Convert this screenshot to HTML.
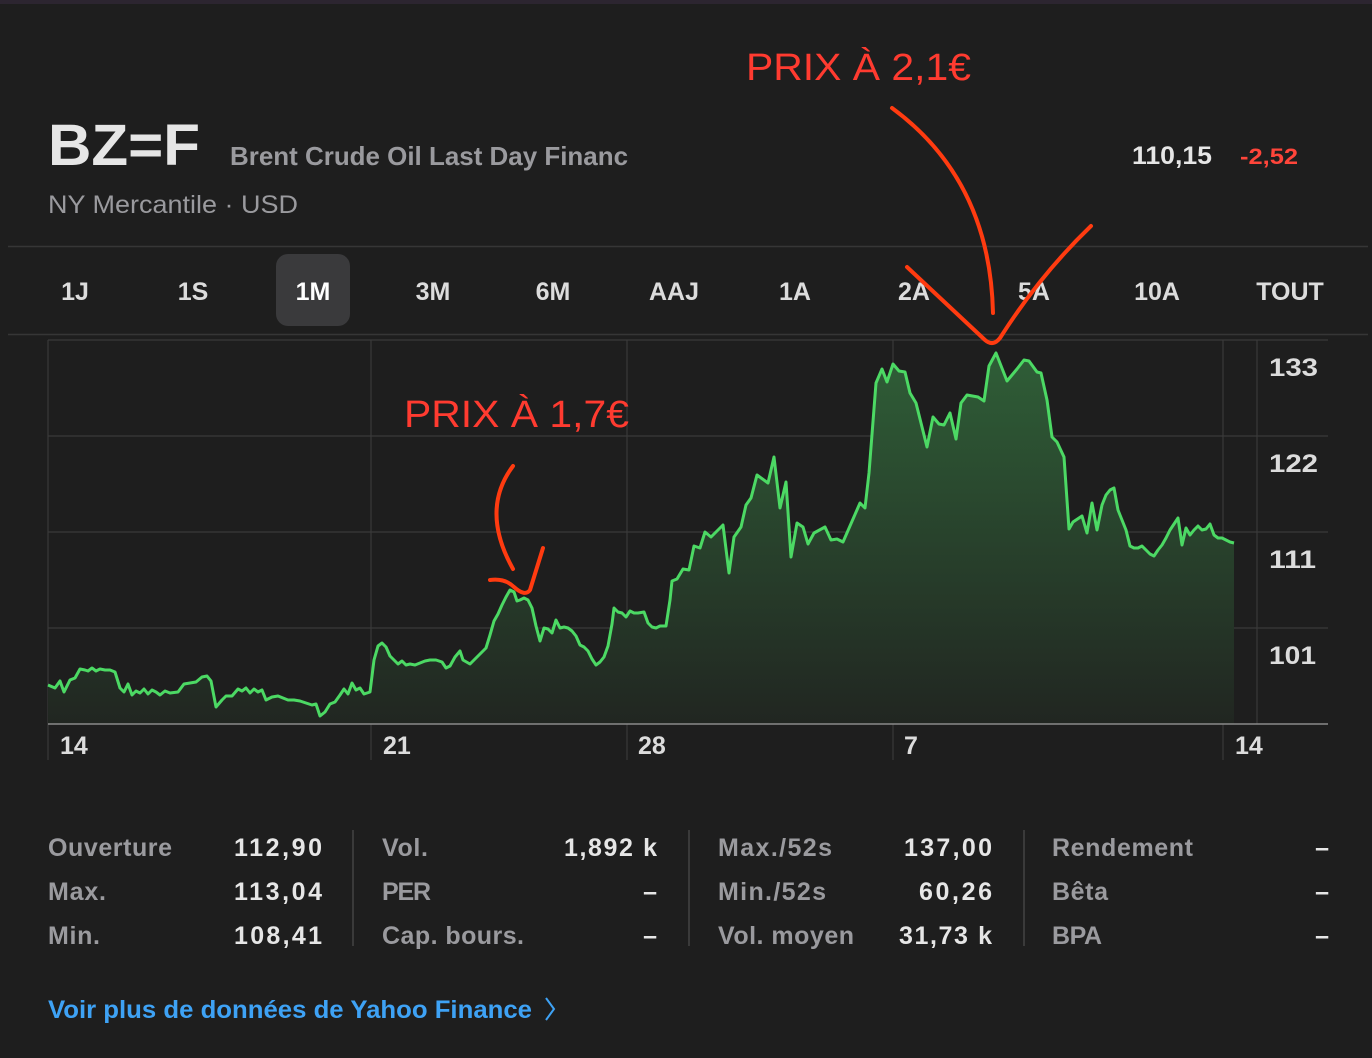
<!DOCTYPE html>
<html><head><meta charset="utf-8"><style>
html,body{margin:0;padding:0;background:#1e1e1e;}
svg{display:block;font-family:"Liberation Sans",sans-serif;}
</style></head><body>
<svg width="1372" height="1058" viewBox="0 0 1372 1058" xmlns="http://www.w3.org/2000/svg">
<defs>
<linearGradient id="fillg" x1="0" y1="352" x2="0" y2="724" gradientUnits="userSpaceOnUse">
<stop offset="0" stop-color="#2f5e37"/><stop offset="1" stop-color="#212621"/>
</linearGradient>
</defs>
<rect width="1372" height="1058" fill="#1e1e1e"/>
<rect width="1372" height="4" fill="#2c2530"/>
<text x="48" y="165" font-size="58" font-weight="bold" fill="#e6e6e6" textLength="152" lengthAdjust="spacingAndGlyphs">BZ=F</text>
<text x="230" y="165" font-size="26" font-weight="bold" fill="#9a9a9e" textLength="398" lengthAdjust="spacingAndGlyphs">Brent Crude Oil Last Day Financ</text>
<text x="48" y="213" font-size="25" fill="#9a9a9e" textLength="250" lengthAdjust="spacingAndGlyphs">NY Mercantile · USD</text>
<text x="1132" y="164" font-size="25" font-weight="bold" fill="#e6e6e6" textLength="80" lengthAdjust="spacingAndGlyphs">110,15</text>
<text x="1240" y="164" font-size="22" font-weight="bold" fill="#ff453a" textLength="58" lengthAdjust="spacingAndGlyphs">-2,52</text>
<line x1="8" y1="246.5" x2="1368" y2="246.5" stroke="#363636" stroke-width="1.5"/>
<line x1="8" y1="334.5" x2="1368" y2="334.5" stroke="#363636" stroke-width="1.5"/>
<rect x="276" y="254" width="74" height="72" rx="12" fill="#3a3a3c"/>
<g font-size="25" font-weight="bold" fill="#dcdcdc" text-anchor="middle">
<text x="75" y="300">1J</text><text x="193" y="300">1S</text><text x="313" y="300" fill="#fff">1M</text>
<text x="433" y="300">3M</text><text x="553" y="300">6M</text><text x="674" y="300">AAJ</text>
<text x="795" y="300">1A</text><text x="914" y="300">2A</text><text x="1034" y="300">5A</text>
<text x="1157" y="300">10A</text><text x="1290" y="300">TOUT</text>
</g>
<g stroke="#3a3a3a" stroke-width="1.2">
<line x1="48" y1="340" x2="1328" y2="340"/>
<line x1="48" y1="436" x2="1328" y2="436"/>
<line x1="48" y1="532" x2="1328" y2="532"/>
<line x1="48" y1="628" x2="1328" y2="628"/>
<line x1="48" y1="340" x2="48" y2="760"/>
<line x1="371" y1="340" x2="371" y2="760"/>
<line x1="627" y1="340" x2="627" y2="760"/>
<line x1="893" y1="340" x2="893" y2="760"/>
<line x1="1223" y1="340" x2="1223" y2="760"/>
<line x1="1257" y1="340" x2="1257" y2="724"/>
</g>
<polygon fill="url(#fillg)" points="48,724 48,685 55,688 60,681 64,692 70,680 75,678 80,669 85,670 88,671 92,668 96,671 100,669 105,670 110,670 115,672 120,688 124,692 128,684 132,695 136,691 140,693 144,689 148,694 152,690 156,692 160,695 165,691 170,693 178,692 184,684 190,683 196,682 202,677 207,676 211,681 216,707 222,700 226,696 232,696 238,689 242,691 246,688 250,693 254,689 258,692 262,690 266,700 272,697 278,696 283,698 288,700 294,700 300,701 306,703 312,705 316,704 320,716 325,712 330,704 335,702 340,695 344,689 348,694 352,683 356,690 360,688 364,694 370,692 374,660 378,646 382,643 386,647 390,656 394,660 398,664 402,661 406,665 410,664 415,665 420,663 425,661 430,660 436,660 442,662 446,668 450,666 455,657 460,651 463,660 470,664 476,658 480,654 486,648 490,635 494,621 498,614 502,605 506,597 510,590 514,592 517,601 520,600 524,598 528,600 532,608 536,626 540,641 544,628 548,629 552,633 556,620 560,628 564,627 568,628 572,631 576,636 580,645 584,647 588,651 592,659 596,665 600,662 604,657 608,646 612,624 614,608 618,612 622,613 626,617 630,611 634,613 638,613 644,612 648,623 652,627 656,628 660,626 666,626 670,600 672,581 677,579 683,569 689,570 694,546 700,548 705,532 711,537 723,525 729,573 734,537 741,527 746,505 751,498 757,475 768,483 774,457 780,508 786,482 791,557 797,523 803,527 808,544 814,533 825,527 831,540 837,539 843,542 860,503 865,508 869,473 876,383 882,369 887,382 893,364 899,371 905,372 910,393 916,403 927,447 933,417 939,424 944,425 950,413 956,439 961,403 967,395 978,397 984,401 989,366 996,353 1007,381 1017,369 1024,360 1029,361 1037,372 1041,373 1047,400 1052,437 1057,442 1064,457 1069,529 1073,522 1082,516 1087,533 1092,503 1097,530 1102,505 1106,495 1110,490 1114,488 1118,510 1122,520 1126,530 1130,546 1134,548 1138,548 1142,546 1146,550 1150,554 1154,556 1158,550 1162,545 1166,538 1170,530 1174,524 1178,518 1182,545 1186,528 1190,535 1194,530 1198,526 1202,530 1206,529 1210,524 1214,535 1218,538 1222,538 1226,540 1230,542 1234,543 1234,724"/>
<polyline fill="none" stroke="#4cd964" stroke-width="3" stroke-linejoin="round" points="48,685 55,688 60,681 64,692 70,680 75,678 80,669 85,670 88,671 92,668 96,671 100,669 105,670 110,670 115,672 120,688 124,692 128,684 132,695 136,691 140,693 144,689 148,694 152,690 156,692 160,695 165,691 170,693 178,692 184,684 190,683 196,682 202,677 207,676 211,681 216,707 222,700 226,696 232,696 238,689 242,691 246,688 250,693 254,689 258,692 262,690 266,700 272,697 278,696 283,698 288,700 294,700 300,701 306,703 312,705 316,704 320,716 325,712 330,704 335,702 340,695 344,689 348,694 352,683 356,690 360,688 364,694 370,692 374,660 378,646 382,643 386,647 390,656 394,660 398,664 402,661 406,665 410,664 415,665 420,663 425,661 430,660 436,660 442,662 446,668 450,666 455,657 460,651 463,660 470,664 476,658 480,654 486,648 490,635 494,621 498,614 502,605 506,597 510,590 514,592 517,601 520,600 524,598 528,600 532,608 536,626 540,641 544,628 548,629 552,633 556,620 560,628 564,627 568,628 572,631 576,636 580,645 584,647 588,651 592,659 596,665 600,662 604,657 608,646 612,624 614,608 618,612 622,613 626,617 630,611 634,613 638,613 644,612 648,623 652,627 656,628 660,626 666,626 670,600 672,581 677,579 683,569 689,570 694,546 700,548 705,532 711,537 723,525 729,573 734,537 741,527 746,505 751,498 757,475 768,483 774,457 780,508 786,482 791,557 797,523 803,527 808,544 814,533 825,527 831,540 837,539 843,542 860,503 865,508 869,473 876,383 882,369 887,382 893,364 899,371 905,372 910,393 916,403 927,447 933,417 939,424 944,425 950,413 956,439 961,403 967,395 978,397 984,401 989,366 996,353 1007,381 1017,369 1024,360 1029,361 1037,372 1041,373 1047,400 1052,437 1057,442 1064,457 1069,529 1073,522 1082,516 1087,533 1092,503 1097,530 1102,505 1106,495 1110,490 1114,488 1118,510 1122,520 1126,530 1130,546 1134,548 1138,548 1142,546 1146,550 1150,554 1154,556 1158,550 1162,545 1166,538 1170,530 1174,524 1178,518 1182,545 1186,528 1190,535 1194,530 1198,526 1202,530 1206,529 1210,524 1214,535 1218,538 1222,538 1226,540 1230,542 1234,543"/>
<line x1="48" y1="724" x2="1328" y2="724" stroke="#8a8a8a" stroke-width="1.5"/>
<g font-size="25" font-weight="bold" fill="#dcdcdc">
<text x="1269" y="376" textLength="49" lengthAdjust="spacingAndGlyphs">133</text><text x="1269" y="472" textLength="49" lengthAdjust="spacingAndGlyphs">122</text><text x="1269" y="568" textLength="47" lengthAdjust="spacingAndGlyphs">111</text><text x="1269" y="664" textLength="47" lengthAdjust="spacingAndGlyphs">101</text>
<text x="60" y="754">14</text><text x="383" y="754">21</text><text x="638" y="754">28</text><text x="904" y="754">7</text><text x="1235" y="754">14</text>
</g>
<text x="746" y="80" font-size="38" fill="#ff3b30" textLength="225" lengthAdjust="spacingAndGlyphs">PRIX À 2,1€</text>
<text x="404" y="427" font-size="38" fill="#ff3b30" textLength="225" lengthAdjust="spacingAndGlyphs">PRIX À 1,7€</text>
<g fill="none" stroke="#ff3b10" stroke-width="4" stroke-linecap="round" stroke-linejoin="round">
<path d="M892,108 Q990,180 993,313"/>
<path d="M907,267 L985,340 Q993,347 1000,338 Q1040,275 1091,226"/>
<path d="M513,466 Q480,510 513,569"/>
<path d="M490,580 Q505,578 514,587 Q525,597 530,590 L543,548"/>
</g>
<g stroke="#3a3a3a" stroke-width="2">
<line x1="353" y1="830" x2="353" y2="946"/><line x1="689" y1="830" x2="689" y2="946"/><line x1="1024" y1="830" x2="1024" y2="946"/>
</g>
<g font-size="25" fill="#9a9a9e" font-weight="bold" lengthAdjust="spacingAndGlyphs">
<text x="48" y="856" textLength="124">Ouverture</text><text x="48" y="900" textLength="58">Max.</text><text x="48" y="944" textLength="52">Min.</text>
<text x="382" y="856" textLength="46">Vol.</text><text x="382" y="900" textLength="49">PER</text><text x="382" y="944" textLength="142">Cap. bours.</text>
<text x="718" y="856" textLength="114">Max./52s</text><text x="718" y="900" textLength="108">Min./52s</text><text x="718" y="944" textLength="136">Vol. moyen</text>
<text x="1052" y="856" textLength="141">Rendement</text><text x="1052" y="900" textLength="56">Bêta</text><text x="1052" y="944" textLength="50">BPA</text>
</g>
<g font-size="25" font-weight="bold" fill="#e6e6e6" text-anchor="end" lengthAdjust="spacingAndGlyphs">
<text x="322" y="856" textLength="88">112,90</text><text x="322" y="900" textLength="88">113,04</text><text x="322" y="944" textLength="88">108,41</text>
<text x="657" y="856" textLength="93">1,892 k</text><text x="657" y="900">–</text><text x="657" y="944">–</text>
<text x="992" y="856" textLength="88">137,00</text><text x="992" y="900" textLength="73">60,26</text><text x="992" y="944" textLength="93">31,73 k</text>
<text x="1329" y="856">–</text><text x="1329" y="900">–</text><text x="1329" y="944">–</text>
</g>
<text x="48" y="1018" font-size="25" font-weight="bold" fill="#3ea2f5" textLength="484" lengthAdjust="spacingAndGlyphs">Voir plus de données de Yahoo Finance</text>
<path d="M546,998 L554,1009 L546,1020" fill="none" stroke="#3ea2f5" stroke-width="2"/>
</svg>
</body></html>
